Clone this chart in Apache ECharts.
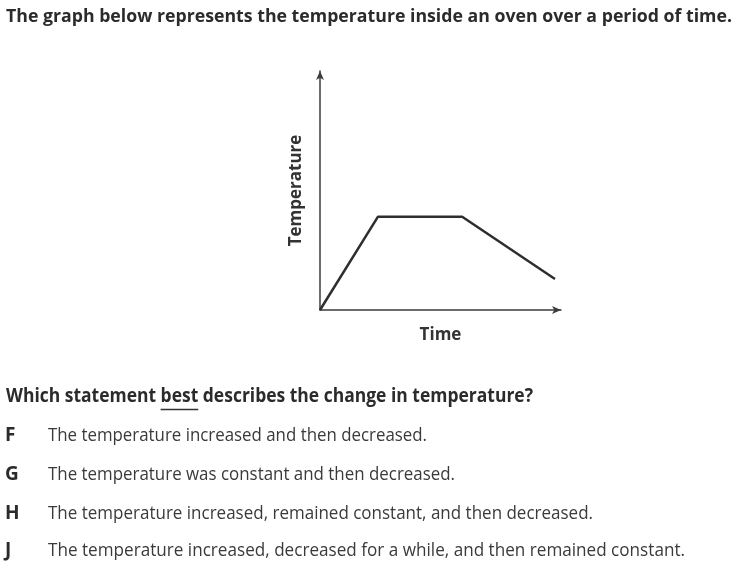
<!DOCTYPE html>
<html>
<head>
<meta charset="utf-8">
<script src="https://cdn.jsdelivr.net/npm/echarts@6/dist/echarts.min.js"></script>
<style>
  html, body { margin: 0; padding: 0; background: #ffffff; }
  #chart { width: 750px; height: 588px; }
</style>
</head>
<body>
<div id="chart"></div>
<script>
// ---- data ----
const titleText = 'The graph below represents the temperature inside an oven over a period of time.';
const questionText = 'Which statement best describes the change in temperature?';
const underlinedWord = 'best';
const optionLetters = ['F', 'G', 'H', 'J'];
const optionTexts = [
  'The temperature increased and then decreased.',
  'The temperature was constant and then decreased.',
  'The temperature increased, remained constant, and then decreased.',
  'The temperature increased, decreased for a while, and then remained constant.'
];
const times = [0, 2.4, 5.9, 9.75];
const temps = [0, 3.9, 3.9, 1.3];
const xName = 'Time';
const yName = 'Temperature';

// ---- layout / style ----
const FONT = "'Open Sans', 'Liberation Sans', sans-serif";
const canvas = document.createElement('canvas');
const ctx = canvas.getContext('2d');
function measure(text, font) { ctx.font = font; return ctx.measureText(text).width; }

const titleFont = 'bold 17.5px ' + FONT;
const questionFont = 'bold 19px ' + FONT;
const optionFont = '19px ' + FONT;
const letterFont = 'bold 19px ' + FONT;

// target line widths (layout)
const titleW = 726, questionW = 527;
const optionW = [379, 407, 545, 637];
const optionY = [436, 475, 514, 551];

const graphics = [];
const tScale = titleW / measure(titleText, titleFont);
graphics.push({ type: 'text', x: 6, y: 17, scaleX: tScale,
  style: { text: titleText, font: titleFont, fill: '#2b2b2b', verticalAlign: 'middle' } });

const qScale = questionW / measure(questionText, questionFont);
graphics.push({ type: 'text', x: 6, y: 397, scaleX: qScale,
  style: { text: questionText, font: questionFont, fill: '#2b2b2b', verticalAlign: 'middle' } });
const idx = questionText.indexOf(underlinedWord);
const ux0 = 6 + measure(questionText.slice(0, idx), questionFont) * qScale;
const ux1 = ux0 + measure(underlinedWord, questionFont) * qScale;
graphics.push({ type: 'line', shape: { x1: ux0, y1: 409.5, x2: ux1, y2: 409.5 },
  style: { stroke: '#333', lineWidth: 1.5 } });

optionLetters.forEach((L, i) => {
  graphics.push({ type: 'text', x: 5, y: optionY[i],
    style: { text: L, font: letterFont, fill: '#2b2b2b', verticalAlign: 'middle' } });
  const s = optionW[i] / measure(optionTexts[i], optionFont);
  graphics.push({ type: 'text', x: 48, y: optionY[i], scaleX: s,
    style: { text: optionTexts[i], font: optionFont, fill: '#3a3a3a', verticalAlign: 'middle' } });
});

const chart = echarts.init(document.getElementById('chart'), null, { renderer: 'canvas' });
const axisLineStyle = { color: '#3c3c3c', width: 1.5 };
chart.setOption({
  backgroundColor: '#ffffff',
  animation: false,
  grid: { left: 320, top: 71, right: 189, bottom: 278, outerBoundsMode: 'none' },
  xAxis: {
    type: 'value', min: 0, max: 10,
    name: xName, nameLocation: 'middle', nameGap: 17,
    nameTextStyle: { fontFamily: FONT, fontWeight: 'bold', fontSize: 17, color: '#333' },
    axisLine: { show: true, onZero: false, symbol: ['none', 'arrow'], symbolSize: [6, 9], lineStyle: axisLineStyle },
    axisTick: { show: false }, axisLabel: { show: false }, splitLine: { show: false }
  },
  yAxis: {
    type: 'value', min: 0, max: 10,
    name: yName, nameLocation: 'middle', nameGap: 15, nameRotate: 90,
    nameTextStyle: { fontFamily: FONT, fontWeight: 'bold', fontSize: 17, color: '#333' },
    axisLine: { show: true, onZero: false, symbol: ['none', 'arrow'], symbolSize: [6, 9], lineStyle: axisLineStyle },
    axisTick: { show: false }, axisLabel: { show: false }, splitLine: { show: false }
  },
  series: [{
    type: 'line',
    data: times.map((t, i) => [t, temps[i]]),
    symbol: 'none',
    lineStyle: { color: '#2e2e2e', width: 2.5 }
  }],
  graphic: graphics
});
</script>
</body>
</html>
